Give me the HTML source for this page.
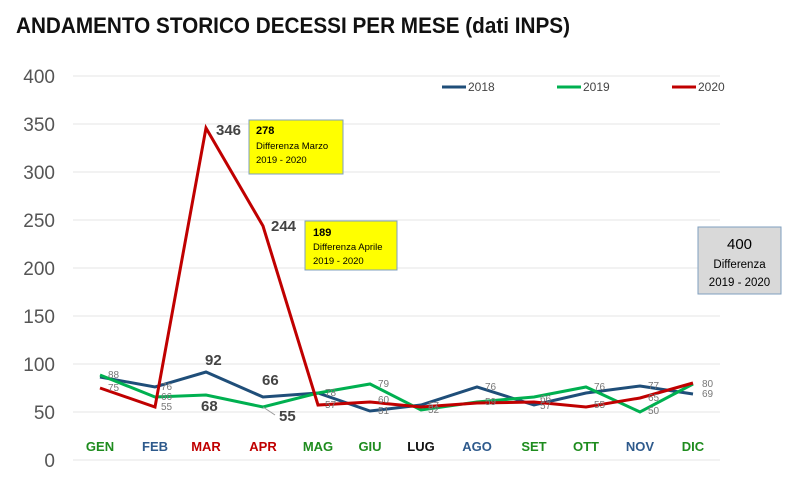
<!DOCTYPE html><html><head><style>body{margin:0;background:#fff}svg{display:block}</style></head><body>
<svg width="800" height="478" xmlns="http://www.w3.org/2000/svg" font-family="Liberation Sans, sans-serif">
<rect width="800" height="478" fill="#fff"/>
<text x="16" y="33" font-size="22" font-weight="bold" fill="#111" textLength="554" lengthAdjust="spacingAndGlyphs">ANDAMENTO STORICO DECESSI PER MESE (dati INPS)</text>
<g stroke="#e6e6e6" stroke-width="1">
<line x1="73" y1="76" x2="720" y2="76"/><line x1="73" y1="124" x2="720" y2="124"/><line x1="73" y1="172" x2="720" y2="172"/><line x1="73" y1="220" x2="720" y2="220"/><line x1="73" y1="268" x2="720" y2="268"/><line x1="73" y1="316" x2="720" y2="316"/><line x1="73" y1="364" x2="720" y2="364"/><line x1="73" y1="412" x2="720" y2="412"/><line x1="73" y1="460" x2="720" y2="460"/>
</g>
<g font-size="19" fill="#555" text-anchor="end">
<text x="55" y="83">400</text><text x="55" y="131">350</text><text x="55" y="179">300</text><text x="55" y="227">250</text><text x="55" y="275">200</text><text x="55" y="323">150</text><text x="55" y="371">100</text><text x="55" y="419">50</text><text x="55" y="467">0</text>
</g>
<g font-size="12" fill="#444">
<line x1="442" y1="87" x2="466" y2="87" stroke="#1f4e79" stroke-width="3"/><text x="468" y="91">2018</text>
<line x1="557" y1="87" x2="581" y2="87" stroke="#00b050" stroke-width="3"/><text x="583" y="91">2019</text>
<line x1="672" y1="87" x2="696" y2="87" stroke="#c00000" stroke-width="3"/><text x="698" y="91">2020</text>
</g>
<g font-size="13" font-weight="bold" text-anchor="middle">
<text x="100" y="451" fill="#1e8c1e">GEN</text><text x="155" y="451" fill="#2e5a8c">FEB</text><text x="206" y="451" fill="#c00000">MAR</text><text x="263" y="451" fill="#c00000">APR</text><text x="318" y="451" fill="#1e8c1e">MAG</text><text x="370" y="451" fill="#1e8c1e">GIU</text><text x="421" y="451" fill="#111">LUG</text><text x="477" y="451" fill="#2e5a8c">AGO</text><text x="534" y="451" fill="#1e8c1e">SET</text><text x="586" y="451" fill="#1e8c1e">OTT</text><text x="640" y="451" fill="#2e5a8c">NOV</text><text x="693" y="451" fill="#1e8c1e">DIC</text>
</g>
<polyline fill="none" stroke="#1f4e79" stroke-width="3" points="100,377 155,387 206,372 263,397 318,393 370,411 421,405 477,387 534,405 586,393 640,386 693,394"/>
<polyline fill="none" stroke="#00b050" stroke-width="3" points="100,375 155,397 206,395 263,407 318,393 370,384 421,410 477,402 534,397 586,387 640,412 693,384"/>
<polyline fill="none" stroke="#c00000" stroke-width="3" points="100,388 155,407 206,128 263,226 318,405 370,402 421,407 477,403 534,402 586,407 640,398 693,383"/>
<g font-size="10" fill="#777">
<text x="108" y="378">88</text><text x="108" y="391">75</text><text x="161" y="390">76</text><text x="161" y="400">66</text><text x="161" y="410">55</text><text x="325" y="396">78</text><text x="325" y="408">57</text><text x="378" y="387">79</text><text x="378" y="403">60</text><text x="378" y="414">51</text><text x="428" y="409">57</text><text x="428" y="413">52</text><text x="485" y="390">76</text><text x="485" y="405">59</text><text x="540" y="402">66</text><text x="540" y="409">57</text><text x="594" y="390">76</text><text x="594" y="408">55</text><text x="648" y="389">77</text><text x="648" y="401">65</text><text x="648" y="414">50</text><text x="702" y="387">80</text><text x="702" y="397">69</text>
</g>
<g font-size="15" font-weight="bold" fill="#444">
<text x="216" y="135">346</text><text x="271" y="231">244</text><text x="205" y="365">92</text><text x="262" y="385">66</text><text x="201" y="411">68</text><text x="279" y="421">55</text>
</g>
<line x1="263" y1="407" x2="275" y2="415" stroke="#999"/>
<rect x="249" y="120" width="94" height="54" fill="#ffff00" stroke="#7f9fbf"/>
<text x="256" y="134" font-size="11" font-weight="bold">278</text><text x="256" y="149" font-size="9.5">Differenza Marzo</text><text x="256" y="163" font-size="9.5">2019 - 2020</text>
<rect x="305" y="221" width="92" height="49" fill="#ffff00" stroke="#7f9fbf"/>
<text x="313" y="236" font-size="11" font-weight="bold">189</text><text x="313" y="250" font-size="9.5">Differenza Aprile</text><text x="313" y="264" font-size="9.5">2019 - 2020</text>
<rect x="698" y="227" width="83" height="67" fill="#d9d9d9" stroke="#7f9fbf"/>
<text x="739.5" y="249" font-size="15" text-anchor="middle">400</text><text x="739.5" y="268" font-size="11.5" text-anchor="middle">Differenza</text><text x="739.5" y="286" font-size="11.5" text-anchor="middle">2019 - 2020</text>
</svg></body></html>
